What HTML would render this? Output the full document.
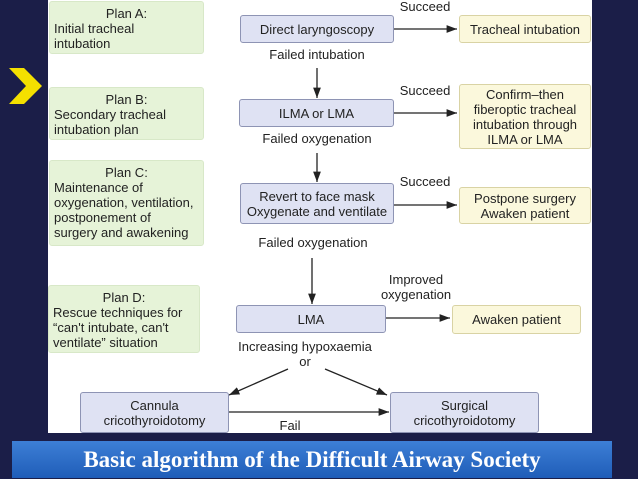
<!DOCTYPE html>
<html><head><meta charset="utf-8"><style>
body{margin:0;width:638px;height:479px;background:#1b1e48;position:relative;overflow:hidden;font-family:"Liberation Sans",sans-serif;}
.panel{position:absolute;left:48px;top:0;width:544px;height:433px;background:#fff;}
.b{position:absolute;box-sizing:border-box;font-size:13px;color:#222;line-height:15px;}
.g{background:#e6f3d8;border:1px solid #d8e8c8;border-radius:3px;padding:4px 4px 2px;}
.p{background:#dfe2f3;border:1px solid #8e94b4;border-radius:3px;text-align:center;display:flex;align-items:center;justify-content:center;}
.y{background:#fbf8dc;border:1px solid #d9d3a4;border-radius:3px;text-align:center;display:flex;align-items:center;justify-content:center;}
.t{position:absolute;font-size:13px;color:#222;text-align:center;line-height:15px;}
.title{position:absolute;left:12px;top:441px;width:600px;height:37px;background:linear-gradient(#3d7fd6,#1f5db8);color:#fff;font-family:"Liberation Serif",serif;font-weight:bold;font-size:23px;text-align:center;line-height:37px;}
</style></head><body>
<div class="panel"></div>
<svg style="position:absolute;left:0;top:0" width="638" height="479">
<polygon points="9,68 24,68 42,86 24,104 9,104 26,86" fill="#f4e000"/>
<defs><marker id="a" markerWidth="8" markerHeight="6" refX="8" refY="3" orient="auto"><path d="M0,0L8,3L0,6z" fill="#222"/></marker></defs>
<g stroke="#222" stroke-width="1.3" marker-end="url(#a)">
<line x1="393" y1="29" x2="457" y2="29"/>
<line x1="393" y1="113" x2="457" y2="113"/>
<line x1="393" y1="205" x2="457" y2="205"/>
<line x1="385" y1="318" x2="450" y2="318"/>
<line x1="317" y1="68" x2="317" y2="98"/>
<line x1="317" y1="153" x2="317" y2="182"/>
<line x1="312" y1="258" x2="312" y2="304"/>
<line x1="288" y1="369" x2="229" y2="395"/>
<line x1="325" y1="369" x2="387" y2="395"/>
<line x1="228" y1="412" x2="389" y2="412"/>
</g></svg>
<div class="b g" style="left:49px;top:1px;width:155px;height:53px"><div style="text-align:center">Plan A:</div>Initial tracheal<br>intubation</div>
<div class="b g" style="left:49px;top:87px;width:155px;height:53px"><div style="text-align:center">Plan B:</div>Secondary tracheal<br>intubation plan</div>
<div class="b g" style="left:49px;top:160px;width:155px;height:86px"><div style="text-align:center">Plan C:</div>Maintenance of<br>oxygenation, ventilation,<br>postponement of<br>surgery and awakening</div>
<div class="b g" style="left:48px;top:285px;width:152px;height:68px"><div style="text-align:center">Plan D:</div>Rescue techniques for<br>“can't intubate, can't<br>ventilate” situation</div>
<div class="b p" style="left:240px;top:15px;width:154px;height:28px">Direct laryngoscopy</div>
<div class="b p" style="left:239px;top:99px;width:155px;height:28px">ILMA or LMA</div>
<div class="b p" style="left:240px;top:183px;width:154px;height:41px">Revert to face mask<br>Oxygenate and ventilate</div>
<div class="b p" style="left:236px;top:305px;width:150px;height:28px">LMA</div>
<div class="b p" style="left:80px;top:392px;width:149px;height:41px">Cannula<br>cricothyroidotomy</div>
<div class="b p" style="left:390px;top:392px;width:149px;height:41px">Surgical<br>cricothyroidotomy</div>
<div class="b y" style="left:459px;top:15px;width:132px;height:28px">Tracheal intubation</div>
<div class="b y" style="left:459px;top:84px;width:132px;height:65px">Confirm–then<br>fiberoptic tracheal<br>intubation through<br>ILMA or LMA</div>
<div class="b y" style="left:459px;top:187px;width:132px;height:37px">Postpone surgery<br>Awaken patient</div>
<div class="b y" style="left:452px;top:305px;width:129px;height:29px">Awaken patient</div>
<div class="t" style="left:385px;top:-1px;width:80px">Succeed</div>
<div class="t" style="left:385px;top:83px;width:80px">Succeed</div>
<div class="t" style="left:385px;top:174px;width:80px">Succeed</div>
<div class="t" style="left:257px;top:47px;width:120px">Failed intubation</div>
<div class="t" style="left:252px;top:131px;width:130px">Failed oxygenation</div>
<div class="t" style="left:248px;top:235px;width:130px">Failed oxygenation</div>
<div class="t" style="left:370px;top:272px;width:92px">Improved<br>oxygenation</div>
<div class="t" style="left:230px;top:339px;width:150px">Increasing hypoxaemia<br>or</div>
<div class="t" style="left:270px;top:418px;width:40px">Fail</div>
<div class="title">Basic algorithm of the Difficult Airway Society</div>
</body></html>
